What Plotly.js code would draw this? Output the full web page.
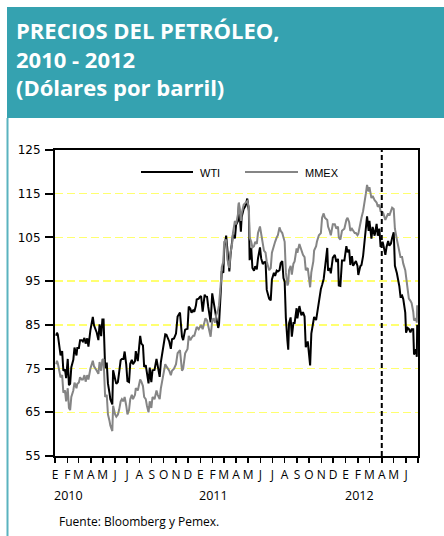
<!DOCTYPE html>
<html><head><meta charset="utf-8">
<script src="https://cdn.plot.ly/plotly-3.0.1.min.js"></script>
<style>html,body{margin:0;padding:0;background:#fff;overflow:hidden}#chart{width:444px;height:536px}</style>
</head><body><div id="chart"></div>
<script>
// ---- data ----
const days2010 = [
 "01-04","01-06","01-08","01-12","01-15","01-19","01-22","01-26","01-29",
 "02-02","02-05","02-08","02-11","02-16","02-19","02-24","02-26",
 "03-02","03-05","03-09","03-12","03-16","03-19","03-23","03-26","03-31",
 "04-06","04-09","04-13","04-16","04-20","04-23","04-27","04-30",
 "05-03","05-05","05-07","05-11","05-14","05-18","05-20","05-25","05-27",
 "06-01","06-04","06-08","06-11","06-15","06-18","06-22","06-25","06-29",
 "07-02","07-06","07-09","07-13","07-16","07-21","07-23","07-28",
 "08-03","08-06","08-10","08-13","08-17","08-20","08-24","08-27","08-31",
 "09-03","09-08","09-13","09-16","09-21","09-24","09-30",
 "10-05","10-08","10-12","10-15","10-19","10-22","10-27",
 "11-01","11-05","11-11","11-16","11-19","11-24","11-30",
 "12-03","12-07","12-10","12-14","12-17","12-21","12-23","12-28","12-31"];
const wti2010 = [
 82.5,83.2,82.8,80.0,78.0,79.0,74.5,74.8,72.8,
 77.2,71.2,71.5,75.3,77.0,79.8,78.0,79.7,
 79.7,81.5,81.5,81.2,82.0,80.7,81.9,80.0,83.8,
 86.8,84.9,84.0,83.2,81.5,85.1,82.4,86.2,
 86.2,79.9,75.1,76.4,71.6,69.4,68.0,66.8,74.6,
 72.6,71.5,71.9,73.8,76.9,77.2,77.2,78.9,75.9,
 72.1,71.9,76.1,77.0,76.0,76.7,79.0,76.7,
 82.5,80.7,80.3,75.4,75.8,73.5,71.6,75.2,71.9,
 74.6,74.7,77.2,75.6,73.1,76.5,80.0,
 82.8,82.7,81.7,81.2,79.5,81.7,81.9,
 83.0,86.9,87.8,82.3,81.5,83.9,84.1,
 89.2,88.7,87.8,88.3,88.0,89.4,90.8,91.0,91.4];
const mmex2010 = [
 76.0,76.8,76.2,74.5,73.0,73.5,69.5,70.0,67.5,
 70.5,66.0,65.5,68.5,70.0,71.8,70.5,71.5,
 71.8,73.0,72.5,72.5,73.5,72.0,73.5,72.5,75.0,
 76.8,75.5,75.0,74.5,73.8,76.5,74.5,77.0,
 77.2,72.0,68.5,69.0,64.5,63.0,62.0,60.7,66.5,
 64.5,64.0,64.5,65.5,67.5,68.0,67.5,68.5,66.5,
 64.5,65.5,68.0,69.0,68.0,69.0,70.5,70.0,
 72.5,72.0,71.0,68.5,68.0,66.5,65.0,67.5,66.0,
 68.5,68.0,70.0,69.0,68.0,70.5,73.5,
 76.0,75.5,75.0,74.5,73.5,74.5,75.0,
 76.0,78.5,79.2,74.5,75.0,78.5,79.5,
 82.5,81.5,82.0,82.5,82.5,83.5,84.5,84.0,84.5];

const days2011 = [
 "01-03","01-07","01-12","01-14","01-18","01-21","01-25","01-27","01-31",
 "02-03","02-07","02-10","02-15","02-17","02-22","02-24","02-28",
 "03-02","03-07","03-10","03-15","03-18","03-22","03-24","03-29",
 "04-01","04-06","04-08","04-13","04-15","04-20","04-25","04-29",
 "05-03","05-05","05-09","05-12","05-16","05-19","05-23","05-26","05-31",
 "06-03","06-07","06-10","06-14","06-17","06-23","06-27","06-30",
 "07-05","07-08","07-12","07-15","07-19","07-22","07-26","07-29",
 "08-01","08-04","08-08","08-10","08-12","08-16","08-19","08-23","08-26","08-31",
 "09-02","09-07","09-12","09-16","09-20","09-23","09-28",
 "10-04","10-07","10-12","10-14","10-19","10-21","10-26","10-31",
 "11-03","11-07","11-10","11-16","11-18","11-22","11-25","11-30",
 "12-05","12-09","12-13","12-15","12-19","12-23","12-29"];
const wti2011 = [
 91.6,88.0,91.9,91.5,91.4,89.1,86.2,85.6,92.2,
 90.5,87.5,86.7,84.3,85.0,93.6,97.3,96.9,
 102.2,105.4,102.7,97.2,101.1,104.0,105.6,104.8,
 107.9,108.8,112.8,106.3,109.7,111.5,112.3,113.9,
 111.1,99.8,102.6,98.0,97.4,98.4,97.7,100.2,102.7,
 100.2,98.9,99.3,99.4,93.0,91.0,90.6,95.4,
 96.9,96.2,97.4,97.2,97.5,99.1,99.6,95.7,
 94.9,86.6,81.3,79.3,85.4,86.7,82.3,85.4,85.4,88.8,
 86.5,89.3,87.2,87.9,86.9,79.9,81.2,
 75.7,83.0,85.6,86.8,86.1,87.4,90.2,93.2,
 94.1,95.5,97.8,102.6,97.4,98.0,96.8,100.4,
 101.0,99.4,100.1,94.0,93.9,99.7,99.7];
const mmex2011 = [
 85.0,84.0,86.0,86.5,86.0,84.5,82.5,82.3,86.0,
 86.5,85.5,87.2,88.5,89.5,95.0,98.2,99.5,
 104.0,104.5,100.0,98.0,101.5,103.5,106.0,108.8,
 108.0,110.5,113.0,108.8,110.5,112.5,113.0,113.3,
 112.0,105.0,104.0,102.7,103.0,104.0,103.5,106.0,107.5,
 105.5,103.5,102.0,101.5,99.5,97.5,98.0,101.5,
 103.5,104.0,105.0,105.5,107.3,106.5,106.0,105.0,
 104.0,97.0,94.0,94.5,97.5,98.5,96.5,99.0,99.5,102.5,
 101.5,103.5,102.0,101.0,100.5,97.5,98.0,
 93.6,97.0,99.5,102.0,103.0,104.0,105.5,106.0,
 109.5,110.5,109.5,109.0,107.5,106.5,105.5,108.0,
 108.0,107.0,107.5,105.0,104.5,106.5,107.0];

const days2012 = [
 "01-03","01-06","01-10","01-13","01-17","01-20","01-24","01-27","01-31",
 "02-02","02-07","02-10","02-14","02-17","02-21","02-24","02-28",
 "03-01","03-06","03-09","03-14","03-19","03-22","03-26","03-29",
 "04-03","04-05","04-10","04-13","04-17","04-20","04-24","04-27",
 "05-01","05-04","05-09","05-15","05-18","05-22","05-25","05-30",
 "06-01","06-05","06-08","06-12","06-15","06-19","06-21","06-26","06-28","06-29"];
const wti2012 = [
 103.0,101.6,102.2,98.7,100.7,98.5,99.0,99.6,98.5,
 96.4,98.4,98.7,100.7,103.2,106.0,109.8,106.5,
 108.8,104.7,107.4,105.4,108.1,105.4,107.0,102.8,
 104.0,103.3,101.0,102.8,104.2,103.1,103.6,104.9,
 106.2,98.5,96.8,93.9,91.5,91.7,90.9,87.8,
 83.2,84.3,84.1,83.3,84.0,84.0,78.2,79.4,77.7,85.0];
const mmex2012 = [
 109.0,109.5,108.5,106.5,107.0,106.5,106.0,106.0,105.5,
 105.8,108.5,109.5,111.0,112.5,115.0,117.0,115.5,
 116.5,114.0,114.5,113.5,113.0,112.0,112.5,111.0,
 110.8,110.5,109.0,109.5,110.5,110.0,111.0,111.8,
 111.5,107.0,104.5,102.0,100.5,100.5,99.0,97.5,
 96.0,92.5,91.0,90.5,90.0,88.0,86.0,86.5,85.5,89.5];

const monthLetters = ["E","F","M","A","M","J","J","A","S","O","N","D"];
const years = ["2010","2011","2012"];
const yTicks = [55,65,75,85,95,105,115,125];
const seriesNames = ["WTI","MMEX"];
const titleLines = ["PRECIOS DEL PETRÓLEO,","2010 - 2012","(Dólares por barril)"];
const sourceText = "Fuente: Bloomberg y Pemex.";
const markerDate = "2012-04-01";

// ---- build ----
const dates = [].concat(
  days2010.map(d => "2010-" + d),
  days2011.map(d => "2011-" + d),
  days2012.map(d => "2012-" + d));
const wti = [].concat(wti2010, wti2011, wti2012);
const mmex = [].concat(mmex2010, mmex2011, mmex2012);

const tickvals = [], ticktext = [];
years.forEach(y => monthLetters.forEach((m, i) => {
  if (y === "2012" && i > 5) return;
  tickvals.push(y + "-" + String(i + 1).padStart(2, "0") + "-01");
  ticktext.push(m);
}));
tickvals.push("2012-07-01"); ticktext.push("");

// plot-area geometry helpers (pixels -> paper)
const PL = 55, PB = 456, PW = 363, PH = 306;
const px = v => (v - PL) / PW;
const py = v => (PB - v) / PH;

const BLACK = "#000000", GRAY = "#858585", TEAL = "#35a2b0";

const traces = [
  {x: dates, y: wti, name: seriesNames[0], type: "scatter", mode: "lines",
   line: {color: BLACK, width: 2}},
  {x: dates, y: mmex, name: seriesNames[1], type: "scatter", mode: "lines",
   line: {color: GRAY, width: 2}}
];

const annotations = [
  {xref: "paper", yref: "paper", x: px(14), y: py(59), xanchor: "left", yanchor: "middle",
   align: "left", showarrow: false, text: titleLines.join("<br>"),
   font: {family: "Open Sans", size: 22, color: "#ffffff", weight: "bold"}},
  {xref: "paper", yref: "paper", x: px(198), y: py(172.5), xanchor: "left", yanchor: "middle",
   showarrow: false, text: seriesNames[0], font: {family: "Liberation Sans", size: 11, color: "#000"}},
  {xref: "paper", yref: "paper", x: px(303), y: py(172.5), xanchor: "left", yanchor: "middle",
   showarrow: false, text: seriesNames[1], font: {family: "Liberation Sans", size: 11, color: "#000"}},
  {xref: "paper", yref: "paper", x: px(57), y: py(521), xanchor: "left", yanchor: "middle",
   showarrow: false, text: sourceText, font: {family: "Open Sans", size: 12, color: "#000"}}
];
years.forEach(y => annotations.push({
  xref: "x", yref: "paper", x: y + "-01-01", xshift: -3, y: py(495), xanchor: "left", yanchor: "middle",
  showarrow: false, text: y, font: {family: "Open Sans", size: 12.5, color: "#000"}
}));

const shapes = [
  {type: "rect", xref: "paper", yref: "paper", x0: px(7), x1: px(444), y0: py(118), y1: py(7),
   fillcolor: TEAL, line: {width: 0}, layer: "below"},
  {type: "line", xref: "paper", yref: "paper", x0: px(7.5), x1: px(7.5), y0: py(118), y1: py(536),
   line: {color: "#5ab3bf", width: 2}},
  {type: "line", xref: "x", yref: "paper", x0: markerDate, x1: markerDate, y0: 0, y1: 1,
   line: {color: BLACK, width: 2, dash: "5px,3px"}},
  {type: "line", xref: "paper", yref: "paper", x0: px(141), x1: px(193), y0: py(172), y1: py(172),
   line: {color: BLACK, width: 2}},
  {type: "line", xref: "paper", yref: "paper", x0: px(245), x1: px(298), y0: py(172), y1: py(172),
   line: {color: GRAY, width: 2}}
];

const layout = {
  width: 444, height: 536,
  margin: {l: 55, r: 26, t: 150, b: 80, pad: 0},
  paper_bgcolor: "#ffffff", plot_bgcolor: "#ffffff",
  showlegend: false, hovermode: false,
  xaxis: {
    type: "date", range: ["2010-01-01", "2012-07-01"],
    tickmode: "array", tickvals: tickvals, ticktext: ticktext,
    ticks: "outside", ticklen: 5, tickwidth: 1.5, tickcolor: BLACK,
    showline: true, linecolor: BLACK, linewidth: 2, mirror: true,
    showgrid: false, zeroline: false, ticklabelstandoff: 2,
    tickangle: 0,
    tickfont: {family: "Open Sans", size: 12, color: "#000"}
  },
  yaxis: {
    range: [55, 125], tickmode: "array", tickvals: yTicks,
    ticks: "outside", ticklen: 8, tickwidth: 2, tickcolor: BLACK,
    showline: true, linecolor: BLACK, linewidth: 2, mirror: true,
    showgrid: true, gridcolor: "#ffff70", gridwidth: 1.5, griddash: "8px,4px",
    zeroline: false, ticklabelstandoff: 2,
    tickfont: {family: "DejaVu Sans", size: 12, color: "#000"}
  },
  annotations: annotations,
  shapes: shapes
};

Plotly.newPlot("chart", traces, layout, {displayModeBar: false, staticPlot: true});
</script></body></html>
